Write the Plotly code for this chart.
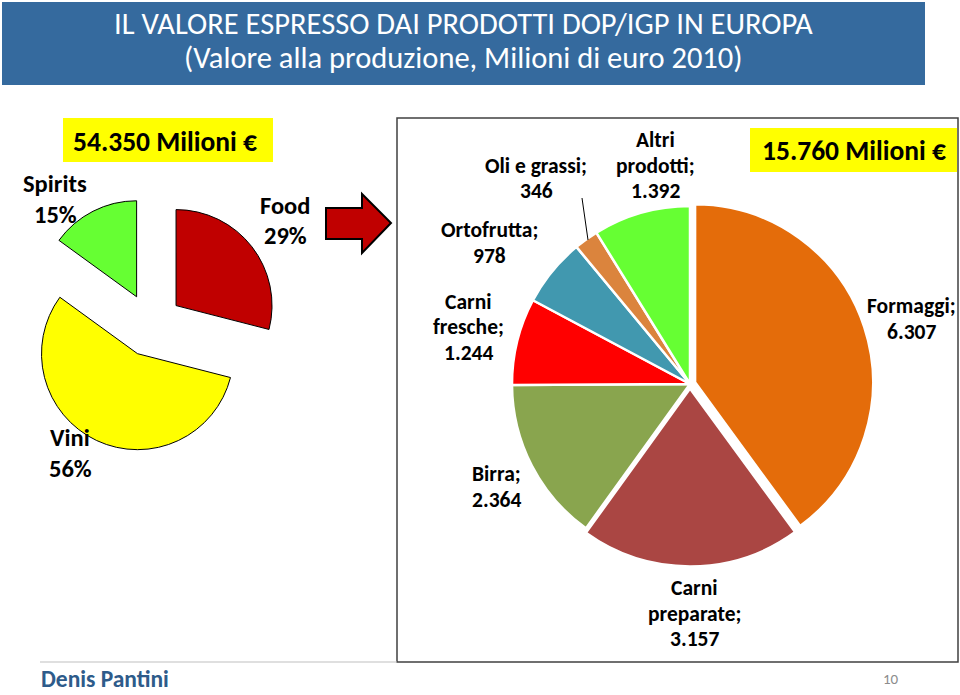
import plotly.graph_objects as go

# ---------------- data ----------------
left_labels = ["Food", "Vini", "Spirits"]
left_values = [29, 56, 15]            # % of 54.350 Mio €
left_colors = ["#C00000", "#FFFF00", "#66FF33"]

right_labels = ["Formaggi", "Carni preparate", "Birra", "Carni fresche",
                "Ortofrutta", "Oli e grassi", "Altri prodotti"]
right_values = [6307, 3157, 2364, 1244, 978, 346, 1392]   # Mio €
right_colors = ["#E46C0A", "#AA4643", "#89A54E", "#FF0000",
                "#4198AF", "#DB843D", "#66FF33"]
right_pull = [0.03, 0.025, 0, 0, 0, 0, 0]

total_all = "54.350 Milioni €"
total_food = "15.760 Milioni €"
title_l1 = "IL VALORE ESPRESSO DAI PRODOTTI DOP/IGP IN EUROPA"
title_l2 = "(Valore alla produzione, Milioni di euro 2010)"

W, H = 960, 695
FONT = "Carlito, Calibri, Lato, sans-serif"


def X(px):
    return px / W


def Y(py):
    return 1 - py / H


def fmt_it(v):
    return f"{v:,}".replace(",", ".")


def dom(cx, cy, size):
    return dict(x=[X(cx - size / 2), X(cx + size / 2)],
                y=[Y(cy + size / 2), Y(cy - size / 2)])


fig = go.Figure()

# left pie: centre (151,325), r=96, pull 0.33
lp = 0.33
fig.add_trace(go.Pie(
    labels=left_labels, values=left_values, sort=False,
    direction="clockwise", rotation=0,
    marker=dict(colors=left_colors, line=dict(color="#000000", width=1)),
    pull=[lp] * len(left_values), textinfo="none", showlegend=False,
    domain=dom(151, 325, 2 * 96 * (1 + lp)),
))

# right pie: centre (690,384), r=178
mp = max(right_pull)
fig.add_trace(go.Pie(
    labels=right_labels, values=right_values, sort=False,
    direction="clockwise", rotation=0,
    marker=dict(colors=right_colors, line=dict(color="#FFFFFF", width=2.5)),
    pull=right_pull, textinfo="none", showlegend=False,
    domain=dom(690, 384, 2 * 178 * (1 + mp)),
))

shapes = []
# title bar
shapes.append(dict(type="rect", xref="paper", yref="paper",
                   x0=X(2), x1=X(925), y0=Y(85), y1=Y(2),
                   fillcolor="#356A9E", line=dict(width=0), layer="below"))
# right frame
shapes.append(dict(type="rect", xref="paper", yref="paper",
                   x0=X(397), x1=X(958), y0=Y(662), y1=Y(118),
                   fillcolor="rgba(0,0,0,0)", line=dict(color="#404040", width=1.5)))
# yellow total boxes
shapes.append(dict(type="rect", xref="paper", yref="paper",
                   x0=X(63), x1=X(273), y0=Y(162), y1=Y(118),
                   fillcolor="#FFFF00", line=dict(width=0), layer="below"))
shapes.append(dict(type="rect", xref="paper", yref="paper",
                   x0=X(750), x1=X(957), y0=Y(172), y1=Y(128),
                   fillcolor="#FFFF00", line=dict(width=0), layer="below"))
# block arrow
pts = [(326, 208), (362, 208), (362, 194), (391, 223), (362, 253), (362, 239), (326, 239)]
path = "M " + " L ".join(f"{X(a):.5f},{Y(b):.5f}" for a, b in pts) + " Z"
shapes.append(dict(type="path", xref="paper", yref="paper", path=path,
                   fillcolor="#C00000", line=dict(color="#000000", width=2)))
# leader line for Oli e grassi
shapes.append(dict(type="line", xref="paper", yref="paper",
                   x0=X(582), y0=Y(198), x1=X(588), y1=Y(240),
                   line=dict(color="#000000", width=1)))
# footer line
shapes.append(dict(type="line", xref="paper", yref="paper",
                   x0=X(40), y0=Y(662), x1=X(397), y1=Y(662),
                   line=dict(color="#BFBFBF", width=1)))

ann = []


def txt(t, x, y, size, color="#000000", bold=False, xanchor="center"):
    if bold:
        t = "<b>" + t + "</b>"
    ann.append(dict(text=t, x=X(x), y=Y(y), xref="paper", yref="paper",
                    xanchor=xanchor, yanchor="middle", showarrow=False,
                    font=dict(family=FONT, size=size, color=color)))


def block(lines, x, y0, step, size, bold=True):
    for i, ln in enumerate(lines):
        txt(ln, x, y0 + i * step, size, bold=bold)


txt(title_l1, 463, 24, 30.5, "#FFFFFF")
txt(title_l2, 463, 58, 30.5, "#FFFFFF")
txt(total_all, 165, 141, 27.5, bold=True)
txt(total_food, 854, 150, 27.5, bold=True)

# left pie labels
left_pos = {"Food": (285, 206), "Vini": (70, 438), "Spirits": (55, 184)}
for lab, v in zip(left_labels, left_values):
    x, y = left_pos[lab]
    block([lab, f"{v}%"], x, y, 30.5, 24.5)

# right pie labels
right_text = {"Formaggi": ["Formaggi;"], "Carni preparate": ["Carni", "preparate;"],
              "Birra": ["Birra;"], "Carni fresche": ["Carni", "fresche;"],
              "Ortofrutta": ["Ortofrutta;"], "Oli e grassi": ["Oli e grassi;"],
              "Altri prodotti": ["Altri", "prodotti;"]}
right_pos = {"Formaggi": (911, 306), "Carni preparate": (694, 588),
             "Birra": (496, 474), "Carni fresche": (468, 302),
             "Ortofrutta": (490, 230), "Oli e grassi": (536, 166),
             "Altri prodotti": (655, 140)}
for lab, v in zip(right_labels, right_values):
    x, y = right_pos[lab]
    block(right_text[lab] + [fmt_it(v)], x, y, 25.5, 21.5)

# footer
txt("<b>Denis Pantini</b>", 39, 679, 23.5, "#2E5B8A", xanchor="left")
txt("10", 891, 679, 15, "#8C8C8C")

fig.update_layout(
    width=W, height=H, margin=dict(l=0, r=0, t=0, b=0),
    paper_bgcolor="#FFFFFF", plot_bgcolor="#FFFFFF",
    shapes=shapes, annotations=ann, showlegend=False,
    font=dict(family=FONT),
)

fig.write_html("out.html", config={"displayModeBar": False},
               post_script="document.body.style.margin='0';document.body.style.padding='0';")
